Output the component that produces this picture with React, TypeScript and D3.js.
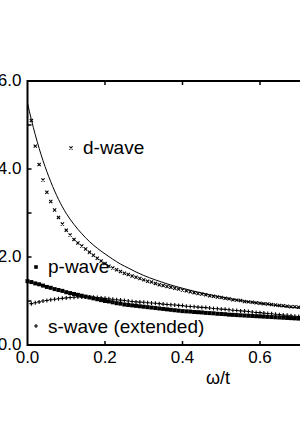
import React, { useEffect, useRef } from "react";
import * as d3 from "d3";

// frequency grid (omega / t) for the marker series
const omegaGrid = [
  0.0, 0.01, 0.02, 0.03, 0.04, 0.05, 0.06, 0.07, 0.08, 0.09,
  0.1, 0.11, 0.12, 0.13, 0.14, 0.15, 0.16, 0.17, 0.18, 0.19,
  0.2, 0.21, 0.22, 0.23, 0.24, 0.25, 0.26, 0.27, 0.28, 0.29,
  0.3, 0.31, 0.32, 0.33, 0.34, 0.35, 0.36, 0.37, 0.38, 0.39,
  0.4, 0.41, 0.42, 0.43, 0.44, 0.45, 0.46, 0.47, 0.48, 0.49,
  0.5, 0.51, 0.52, 0.53, 0.54, 0.55, 0.56, 0.57, 0.58, 0.59,
  0.6, 0.61, 0.62, 0.63, 0.64, 0.65, 0.66, 0.67, 0.68, 0.69,
  0.7, 0.71, 0.72,
];

const dWave = [
  null, 5.1, 4.52, 4.1, 3.75, 3.47, 3.26, 3.07, 2.9, 2.75,
  2.61, 2.5, 2.4, 2.32, 2.25, 2.18, 2.11, 2.04, 1.97, 1.91,
  1.85, 1.79, 1.75, 1.71, 1.67, 1.63, 1.6, 1.57, 1.54, 1.51,
  1.48, 1.45, 1.43, 1.4, 1.37, 1.35, 1.33, 1.31, 1.29, 1.27,
  1.25, 1.23, 1.21, 1.19, 1.17, 1.16, 1.14, 1.12, 1.11, 1.09,
  1.08, 1.06, 1.05, 1.03, 1.02, 1.01, 0.99, 0.98, 0.97, 0.96,
  0.95, 0.94, 0.93, 0.92, 0.91, 0.9, 0.89, 0.88, 0.87, 0.87,
  0.86, 0.85, 0.84,
];

const pWave = [
  1.45, 1.43, 1.4, 1.38, 1.35, 1.32, 1.3, 1.27, 1.25, 1.23,
  1.2, 1.18, 1.16, 1.14, 1.12, 1.1, 1.08, 1.06, 1.04, 1.02,
  1.0, 0.99, 0.97, 0.95, 0.94, 0.92, 0.91, 0.9, 0.89, 0.88,
  0.87, 0.86, 0.85, 0.84, 0.83, 0.82, 0.81, 0.8, 0.79, 0.78,
  0.77, 0.765, 0.76, 0.75, 0.745, 0.74, 0.73, 0.725, 0.72, 0.71,
  0.705, 0.7, 0.69, 0.685, 0.68, 0.675, 0.67, 0.665, 0.66, 0.655,
  0.65, 0.645, 0.64, 0.635, 0.63, 0.625, 0.62, 0.615, 0.61, 0.605,
  0.6, 0.595, 0.59,
];

const sWave = [
  null, 0.94, 0.96, 0.98, 1.0, 1.01, 1.03, 1.04, 1.05, 1.06,
  1.07, 1.08, 1.085, 1.09, 1.09, 1.09, 1.09, 1.085, 1.08, 1.07,
  1.06, 1.05, 1.04, 1.03, 1.02, 1.01, 1.0, 0.99, 0.98, 0.975,
  0.97, 0.96, 0.955, 0.95, 0.94, 0.93, 0.92, 0.915, 0.91, 0.9,
  0.895, 0.88, 0.875, 0.87, 0.86, 0.855, 0.85, 0.84, 0.83, 0.825,
  0.815, 0.81, 0.8, 0.79, 0.785, 0.775, 0.77, 0.76, 0.75, 0.74,
  0.735, 0.725, 0.715, 0.71, 0.7, 0.69, 0.68, 0.675, 0.665, 0.655,
  0.645, 0.64, 0.63,
];

// solid curve
const fitOmega = [
  0.0, 0.01, 0.02, 0.03, 0.04, 0.05, 0.06, 0.07, 0.08, 0.09, 0.1,
  0.12, 0.14, 0.16, 0.18, 0.2, 0.22, 0.24, 0.26, 0.28, 0.3, 0.33,
  0.36, 0.4, 0.45, 0.5, 0.55, 0.6, 0.65, 0.7, 0.75, 0.8,
];
const fitValues = [
  5.5, 5.12, 4.78, 4.47, 4.19, 3.94, 3.71, 3.5, 3.31, 3.14, 2.99,
  2.74, 2.53, 2.35, 2.2, 2.07, 1.95, 1.84, 1.75, 1.66, 1.58, 1.48,
  1.39, 1.29, 1.18, 1.09, 1.01, 0.95, 0.89, 0.84, 0.79, 0.75,
];

const xTicks = [0, 0.2, 0.4, 0.6, 0.8];
const xTickLabels = ["0.0", "0.2", "0.4", "0.6"];
const yTicks = [0, 2, 4, 6];
const yTickLabels = ["0.0", "2.0", "4.0", "6.0"];
const yMinorTicks = [1, 3, 5];
const legendLabels = ["d-wave", "p-wave", "s-wave (extended)"];

const crossPath = "M-1.6,-1.6L1.6,1.6M-1.6,1.6L1.6,-1.6";
const plusPath = "M-2,0H2M0,-2V2";

const App = () => {
  const ref = useRef<SVGSVGElement | null>(null);

  useEffect(() => {
    const svg = d3.select(ref.current);
    svg.selectAll("*").remove();

    const x = d3.scaleLinear().domain([0, 0.8]).range([27.5, 337.5]);
    const y = d3.scaleLinear().domain([0, 6]).range([345, 81]);
    const font = "'Liberation Sans', Arial, Helvetica, sans-serif";

    // solid curve
    const line = d3
      .line<number>()
      .x((d, i) => x(fitOmega[i]))
      .y((d) => y(d))
      .curve(d3.curveMonotoneX);
    svg
      .append("path")
      .attr("d", line(fitValues))
      .attr("fill", "none")
      .attr("stroke", "#000")
      .attr("stroke-width", 1);

    // p-wave: filled squares
    svg
      .append("g")
      .selectAll("rect")
      .data(pWave)
      .enter()
      .append("rect")
      .attr("x", (d, i) => x(omegaGrid[i]) - 2)
      .attr("y", (d) => y(d) - 2)
      .attr("width", 4)
      .attr("height", 4)
      .attr("fill", "#000");

    // s-wave: plus signs
    svg
      .append("g")
      .selectAll("path")
      .data(sWave.map((v, i) => [omegaGrid[i], v]).filter((d) => d[1] != null))
      .enter()
      .append("path")
      .attr("d", plusPath)
      .attr("transform", (d) => `translate(${x(d[0] as number)},${y(d[1] as number)})`)
      .attr("stroke", "#000")
      .attr("stroke-width", 1.1)
      .attr("fill", "none");

    // d-wave: crosses
    svg
      .append("g")
      .selectAll("path")
      .data(dWave.map((v, i) => [omegaGrid[i], v]).filter((d) => d[1] != null))
      .enter()
      .append("path")
      .attr("d", crossPath)
      .attr("transform", (d) => `translate(${x(d[0] as number)},${y(d[1] as number)})`)
      .attr("stroke", "#000")
      .attr("stroke-width", 1.1)
      .attr("fill", "none");

    // frame
    svg
      .append("rect")
      .attr("x", x(0))
      .attr("y", y(6))
      .attr("width", x(0.8) - x(0))
      .attr("height", y(0) - y(6))
      .attr("fill", "none")
      .attr("stroke", "#000")
      .attr("stroke-width", 2);

    // ticks, pointing inward
    xTicks.slice(1, -1).forEach((t) => {
      svg.append("line").attr("x1", x(t)).attr("x2", x(t)).attr("y1", y(0)).attr("y2", y(0) - 4)
        .attr("stroke", "#000").attr("stroke-width", 1.5);
      svg.append("line").attr("x1", x(t)).attr("x2", x(t)).attr("y1", y(6)).attr("y2", y(6) + 4)
        .attr("stroke", "#000").attr("stroke-width", 1.5);
    });
    [...yTicks.slice(1, -1), ...yMinorTicks].forEach((t) => {
      svg.append("line").attr("x1", x(0)).attr("x2", x(0) + 4).attr("y1", y(t)).attr("y2", y(t))
        .attr("stroke", "#000").attr("stroke-width", 1.5);
    });

    // tick labels (the 0.8 label lies outside the visible area)
    svg
      .append("g")
      .selectAll("text")
      .data(xTicks.slice(0, xTickLabels.length))
      .enter()
      .append("text")
      .attr("x", (d) => x(d))
      .attr("y", 363)
      .attr("text-anchor", "middle")
      .attr("font-family", font)
      .attr("font-size", 17)
      .text((d, i) => xTickLabels[i]);

    svg
      .append("g")
      .selectAll("text")
      .data(yTicks)
      .enter()
      .append("text")
      .attr("x", 21.5)
      .attr("y", (d) => y(d) + 4.5)
      .attr("text-anchor", "end")
      .attr("font-family", font)
      .attr("font-size", 17)
      .text((d, i) => yTickLabels[i]);

    svg
      .append("text")
      .attr("x", 218)
      .attr("y", 384)
      .attr("text-anchor", "middle")
      .attr("font-family", font)
      .attr("font-size", 18)
      .text("ω/t");

    // legend
    const legendPos = [
      { mx: 71, my: 148, tx: 83, ty: 153.5 },
      { mx: 36, my: 267, tx: 48, ty: 272.5 },
      { mx: 36, my: 326, tx: 48, ty: 332.5 },
    ];
    legendPos.forEach((p, i) => {
      if (i === 1) {
        svg.append("rect").attr("x", p.mx - 1.8).attr("y", p.my - 1.8)
          .attr("width", 3.6).attr("height", 3.6).attr("fill", "#000");
      } else {
        svg.append("path").attr("d", i === 0 ? crossPath : plusPath)
          .attr("transform", `translate(${p.mx},${p.my})`)
          .attr("stroke", "#000").attr("stroke-width", 1.1).attr("fill", "none");
      }
      svg.append("text").attr("x", p.tx).attr("y", p.ty)
        .attr("font-family", font).attr("font-size", 19)
        .text(legendLabels[i]);
    });
  }, []);

  return (
    <svg
      ref={ref}
      width={300}
      height={428}
      style={{ position: "absolute", left: 0, top: 0, background: "#fff" }}
    />
  );
};

export default App;
